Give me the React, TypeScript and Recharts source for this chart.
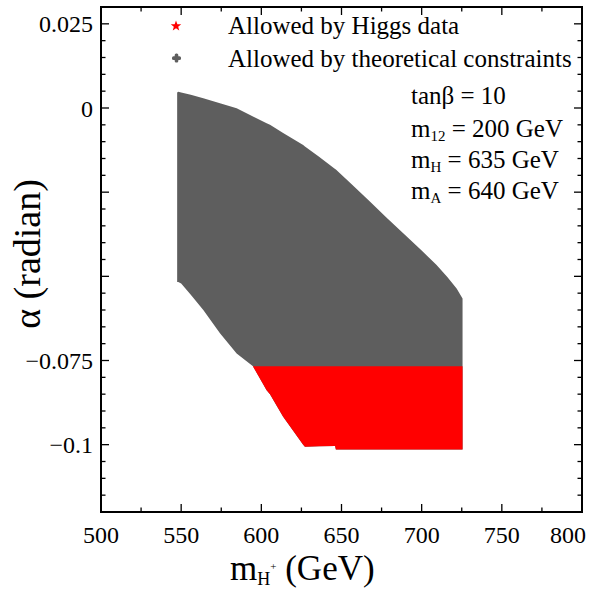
import React from "react";
import { ComposedChart, Area, XAxis, YAxis } from "recharts";

const FONT = '"Liberation Serif", "Times New Roman", serif';
const GRAY = "#5e5e5e";
const RED = "#ff0000";

// m_H+ (GeV) sample positions along the region boundaries
const X_VALUES = [547.5, 548.2, 550, 556, 563.8, 574.2, 584.6, 594.8, 603.3, 605.4, 613.6, 626.1, 627.2, 636, 646, 646.5, 656, 667.7, 678, 688.5, 699, 709.3, 716, 721.8, 725.5];
// theoretical constraints region: upper / lower alpha boundary
const GRAY_HIGH = [0.0046, 0.0048, 0.0046, 0.0039, 0.0029, 0.0014, -0.0001, -0.0025, -0.0045, -0.005, -0.0074, -0.011, -0.0114, -0.0145, -0.0181, -0.0183, -0.0225, -0.0278, -0.0325, -0.0372, -0.0419, -0.0466, -0.0502, -0.0536, -0.0566];
const GRAY_LOW = [-0.0517, -0.0517, -0.0521, -0.0555, -0.06, -0.0669, -0.0729, -0.0767, -0.0838, -0.085, -0.0917, -0.1, -0.1006, -0.1005, -0.1004, -0.1014, -0.1014, -0.1014, -0.1014, -0.1014, -0.1014, -0.1014, -0.1014, -0.1014, -0.1014];
// Higgs data region
const RED_HIGH = [null, null, null, null, null, null, null, -0.0767, -0.0767, -0.0767, -0.0767, -0.0767, -0.0767, -0.0767, -0.0767, -0.0767, -0.0767, -0.0767, -0.0767, -0.0767, -0.0767, -0.0767, -0.0767, -0.0767, -0.0767];
const RED_LOW = [null, null, null, null, null, null, null, -0.0768, -0.0838, -0.085, -0.0917, -0.1, -0.1006, -0.1005, -0.1004, -0.1014, -0.1014, -0.1014, -0.1014, -0.1014, -0.1014, -0.1014, -0.1014, -0.1014, -0.1014];

const X_TICKS = [500, 525, 550, 575, 600, 625, 650, 675, 700, 725, 750, 775, 800];
const X_LABELED = [500, 550, 600, 650, 700, 750, 800];
const Y_TICKS = [-0.12, -0.115, -0.11, -0.105, -0.1, -0.095, -0.09, -0.085, -0.08, -0.075, -0.07, -0.065, -0.06, -0.055, -0.05, -0.045, -0.04, -0.035, -0.03, -0.025, -0.02, -0.015, -0.01, -0.005, 0, 0.005, 0.01, 0.015, 0.02, 0.025, 0.03];
const Y_LABELS: [number, string][] = [[0.025, "0.025"], [0, "0"], [-0.075, "\u22120.075"], [-0.1, "\u22120.1"]];

const PLOT = { left: 101, right: 582, top: 7, bottom: 512 };
const AX = 1; // axis thickness reserved by each axis

const rows = X_VALUES.map((x, i) => ({
  x,
  gray: [GRAY_LOW[i], GRAY_HIGH[i]],
  red: RED_LOW[i] == null ? null : [RED_LOW[i], RED_HIGH[i]],
}));

const isMajorX = (v: number) => v % 50 === 0;
const isMajorY = (v: number) => Math.abs(v / 0.025 - Math.round(v / 0.025)) < 1e-6;

const BottomTick = (props: any) => {
  const { x, payload } = props;
  const v = payload.value;
  const len = isMajorX(v) ? 8 : 4.5;
  const last = v === X_LABELED[X_LABELED.length - 1];
  return (
    <g>
      <line x1={x} x2={x} y1={PLOT.bottom} y2={PLOT.bottom - len} stroke="#000" strokeWidth={1.3} />
      {X_LABELED.includes(v) ? (
        <text
          x={last ? 586 : x}
          y={543}
          textAnchor={last ? "end" : "middle"}
          fontSize={24}
          fontFamily={FONT}
          fill="#000"
        >
          {v}
        </text>
      ) : null}
    </g>
  );
};

const TopTick = (props: any) => {
  const { x, payload } = props;
  const len = isMajorX(payload.value) ? 8 : 4.5;
  return <line x1={x} x2={x} y1={PLOT.top} y2={PLOT.top + len} stroke="#000" strokeWidth={1.3} />;
};

const LeftTick = (props: any) => {
  const { y, payload } = props;
  const v = payload.value;
  const len = isMajorY(v) ? 8 : 4.5;
  const lab = Y_LABELS.find((l) => Math.abs(l[0] - v) < 1e-9);
  return (
    <g>
      <line x1={PLOT.left} x2={PLOT.left + len} y1={y} y2={y} stroke="#000" strokeWidth={1.3} />
      {lab ? (
        <text x={93} y={y + 8.5} textAnchor="end" fontSize={24} fontFamily={FONT} fill="#000">
          {lab[1]}
        </text>
      ) : null}
    </g>
  );
};

const RightTick = (props: any) => {
  const { y, payload } = props;
  const len = isMajorY(payload.value) ? 8 : 4.5;
  return <line x1={PLOT.right} x2={PLOT.right - len} y1={y} y2={y} stroke="#000" strokeWidth={1.3} />;
};

const starPath = (cx: number, cy: number, R: number, r: number) => {
  const pts: string[] = [];
  for (let i = 0; i < 10; i++) {
    const rad = i % 2 === 0 ? R : r;
    const a = -Math.PI / 2 + (i * Math.PI) / 5;
    pts.push(`${cx + rad * Math.cos(a)},${cy + rad * Math.sin(a)}`);
  }
  return `M${pts.join("L")}Z`;
};

const Overlay = () => (
  <svg width={590} height={590} style={{ position: "absolute", left: 0, top: 0, pointerEvents: "none" }}>
    <g fontFamily={FONT} fill="#000">
      <rect x={PLOT.left} y={PLOT.top} width={PLOT.right - PLOT.left} height={PLOT.bottom - PLOT.top} fill="none" stroke="#000" strokeWidth={2} />
      {/* legend */}
      <path d={starPath(176, 26, 5.5, 2.3)} fill={RED} />
      <text x={228} y={34} fontSize={25}>Allowed by Higgs data</text>
      <rect x={172} y={56.3} width={9} height={3.6} rx={1.5} fill={GRAY} />
      <rect x={174.7} y={53.6} width={3.6} height={9} rx={1.5} fill={GRAY} />
      <text x={228} y={66.5} fontSize={25}>Allowed by theoretical constraints</text>

      {/* parameters */}
      <text x={411} y={104} fontSize={25}>tanβ = 10</text>
      <text x={411} y={137} fontSize={25}>
        m<tspan fontSize={15} dy={4}>12</tspan>
        <tspan dy={-4}> = 200 GeV</tspan>
      </text>
      <text x={411} y={168} fontSize={25}>
        m<tspan fontSize={15} dy={4}>H</tspan>
        <tspan dy={-4}> = 635 GeV</tspan>
      </text>
      <text x={411} y={199} fontSize={25}>
        m<tspan fontSize={15} dy={4}>A</tspan>
        <tspan dy={-4}> = 640 GeV</tspan>
      </text>

      {/* axis titles */}
      <text x={230} y={580} fontSize={35}>
        m<tspan fontSize={18} dy={5}>H</tspan>
        <tspan fontSize={11} dy={-15}>+</tspan>
        <tspan dy={10}> (GeV)</tspan>
      </text>
      <text transform="translate(40,254) rotate(-90)" textAnchor="middle" fontSize={38}>
        α (radian)
      </text>
    </g>
  </svg>
);

export default function App() {
  return (
    <div style={{ position: "absolute", left: 0, top: 0, width: 590, height: 590, background: "#fff" }}>
      <ComposedChart
        width={590}
        height={590}
        data={rows}
        margin={{ top: PLOT.top - AX, right: 590 - PLOT.right - AX, bottom: 590 - PLOT.bottom - AX, left: PLOT.left - AX }}
      >
        <XAxis
          xAxisId="b"
          dataKey="x"
          type="number"
          domain={[500, 800]}
          ticks={X_TICKS}
          interval={0}
          height={AX}
          allowDataOverflow
          axisLine={false}
          tickLine={false}
          tick={BottomTick}
        />
        <XAxis
          xAxisId="t"
          orientation="top"
          dataKey="x"
          type="number"
          domain={[500, 800]}
          ticks={X_TICKS}
          interval={0}
          height={AX}
          allowDataOverflow
          axisLine={false}
          tickLine={false}
          tick={TopTick}
        />
        <YAxis
          yAxisId="l"
          type="number"
          domain={[-0.12, 0.03]}
          ticks={Y_TICKS}
          interval={0}
          width={AX}
          allowDataOverflow
          axisLine={false}
          tickLine={false}
          tick={LeftTick}
        />
        <YAxis
          yAxisId="r"
          orientation="right"
          type="number"
          domain={[-0.12, 0.03]}
          ticks={Y_TICKS}
          interval={0}
          width={AX}
          allowDataOverflow
          axisLine={false}
          tickLine={false}
          tick={RightTick}
        />
        <Area
          xAxisId="b"
          yAxisId="l"
          dataKey="gray"
          type="linear"
          stroke="none"
          fill={GRAY}
          fillOpacity={1}
          isAnimationActive={false}
          dot={false}
          activeDot={false}
        />
        <Area
          xAxisId="b"
          yAxisId="l"
          dataKey="red"
          type="linear"
          stroke="none"
          fill={RED}
          fillOpacity={1}
          isAnimationActive={false}
          dot={false}
          activeDot={false}
        />
      </ComposedChart>
      <Overlay />
    </div>
  );
}
